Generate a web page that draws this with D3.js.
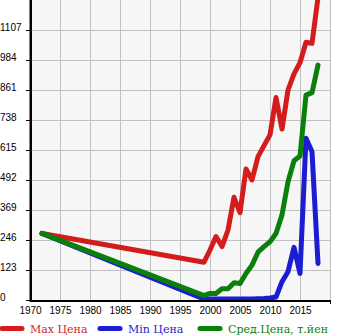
<!DOCTYPE html>
<html><head><meta charset="utf-8">
<script src="https://cdn.jsdelivr.net/npm/d3@7"></script>
<style>body{margin:0;background:#fff}svg{display:block}</style>
</head><body>
<svg id="c" width="345" height="335"></svg>
<script>
const years = [1972,1999,2000,2001,2002,2003,2004,2005,2006,2007,2008,2009,2010,2011,2012,2013,2014,2015,2016,2017,2018];
const maxPrice = [273,155,205,260,219,287,421,358,537,492,588,633,677,830,701,861,927,973,1057,1052,1240];
const minPrice = [273,4,4,4,4,4,4,4,4,4,5,6,8,12,75,116,216,109,663,608,150];
const avgPrice = [273,18,27,27,46,46,71,68,109,143,196,219,239,273,349,485,571,590,840,850,963];
const yTicks = [0,123,246,369,492,615,738,861,984,1107];
const xTicks = [1970,1975,1980,1985,1990,1995,2000,2005,2010,2015];
const seriesNames = ["Max Цена","Min Цена","Сред.Цена, т.йен"];
const seriesColors = ["#d41c1c","#1c1cd2","#0a800a"];

const svg = d3.select("#c");
const x = d3.scaleLinear().domain([1970,2020]).range([30,330]);
const y = d3.scaleLinear().domain([0,1230]).range([300,0]);

svg.append("rect").attr("x",x(1970)).attr("y",y(1230)).attr("width",x(2020)-x(1970)).attr("height",y(0)-y(1230)).attr("fill","#f6f6f6");

// grid
svg.append("g").selectAll("line").data(d3.range(1975,2021,5)).join("line")
  .attr("x1",d=>x(d)+0.5).attr("x2",d=>x(d)+0.5).attr("y1",y(1230)).attr("y2",y(0))
  .attr("stroke","#c0c0c0").attr("stroke-width",1);
svg.append("g").selectAll("line").data(yTicks.slice(1)).join("line")
  .attr("x1",x(1970)).attr("x2",x(2020)).attr("y1",d=>y(d)+0.5).attr("y2",d=>y(d)+0.5)
  .attr("stroke","#c0c0c0").attr("stroke-width",1);

// lines
const clip = svg.append("clipPath").attr("id","pc").append("rect")
  .attr("x",x(1970)).attr("y",0).attr("width",x(2020)-x(1970)+10).attr("height",y(0));
const line = d3.line().x((d,i)=>x(years[i])).y(d=>y(d));
const order = [0,1,2];
const data = [maxPrice,minPrice,avgPrice];
order.forEach(k=>{
  svg.append("path").attr("d",line(data[k])).attr("fill","none")
    .attr("stroke",seriesColors[k]).attr("stroke-width",5)
    .attr("stroke-linejoin","round").attr("stroke-linecap","round")
    .attr("clip-path","url(#pc)");
});

// axes
const yAxis = d3.axisLeft(y).tickValues(yTicks).tickSize(4).tickFormat(d3.format("d"));
const gy = svg.append("g").attr("transform",`translate(${x(1970)},0)`).call(yAxis);
gy.select(".domain").remove();
gy.selectAll(".tick line").attr("stroke","#000");
gy.selectAll(".tick text").attr("x",-30).attr("dy","0").attr("text-anchor","start")
  .attr("font-family","'Liberation Sans', Arial, sans-serif").attr("font-size",10).attr("fill","#000");

const xAxis = d3.axisBottom(x).tickValues(xTicks).tickSize(0).tickFormat(d3.format("d"));
const gx = svg.append("g").attr("transform",`translate(0,${y(0)})`).call(xAxis);
gx.select(".domain").remove();
gx.selectAll(".tick text").attr("y",14).attr("dy","0")
  .attr("font-family","'Liberation Sans', Arial, sans-serif").attr("font-size",10).attr("fill","#000");

svg.append("line").attr("x1",x(1970)).attr("x2",x(2020)+1).attr("y1",y(0)+1).attr("y2",y(0)+1).attr("stroke","#000").attr("stroke-width",2);
svg.append("line").attr("x1",x(2020)+0.5).attr("x2",x(2020)+0.5).attr("y1",y(0)).attr("y2",y(0)+4).attr("stroke","#000").attr("stroke-width",1);
svg.append("line").attr("x1",x(1970)+0.75).attr("x2",x(1970)+0.75).attr("y1",0).attr("y2",y(0)+2).attr("stroke","#000").attr("stroke-width",2.5);

// legend
const legX = [2,100,200];
const lg = svg.append("g");
seriesNames.forEach((n,i)=>{
  lg.append("line").attr("x1",legX[i]).attr("x2",legX[i]+20).attr("y1",328.5).attr("y2",328.5)
    .attr("stroke",seriesColors[i]).attr("stroke-width",5).attr("stroke-linecap","round");
  lg.append("text").attr("x",legX[i]+28).attr("y",333).text(n)
    .attr("font-family","'DejaVu Serif', serif").attr("font-size",11).attr("fill",seriesColors[i]);
});
</script>
</body></html>
